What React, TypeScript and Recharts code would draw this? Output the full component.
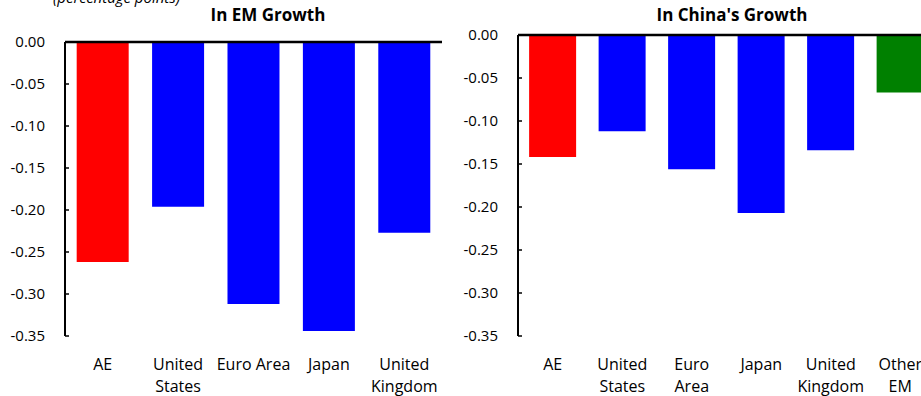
import React from "react";
import { BarChart, Bar, XAxis, YAxis, Cell, ReferenceLine } from "recharts";

// ---- Data ----
const emCategories = ["AE", "United States", "Euro Area", "Japan", "United Kingdom"];
const emTickLabels = ["AE", "United\nStates", "Euro Area", "Japan", "United\nKingdom"];
const emValues = [-0.262, -0.196, -0.312, -0.344, -0.227];

const chinaCategories = ["AE", "United States", "Euro Area", "Japan", "United Kingdom", "Other EM"];
const chinaTickLabels = ["AE", "United\nStates", "Euro\nArea", "Japan", "United\nKingdom", "Other\nEM"];
const chinaValues = [-0.142, -0.112, -0.156, -0.207, -0.134, -0.067];

const yTicks = [0, -0.05, -0.1, -0.15, -0.2, -0.25, -0.3, -0.35];

const emData = emCategories.map((c, i) => ({ name: c, label: emTickLabels[i], value: emValues[i] }));
const chinaData = chinaCategories.map((c, i) => ({ name: c, label: chinaTickLabels[i], value: chinaValues[i] }));

// ---- Styles ----
const FONT = "'Open Sans', sans-serif";
const colorFor = (name: string) => (name === "AE" ? "#FF0000" : name === "Other EM" ? "#008000" : "#0000FF");

const makeTick = (labels: string[]) => (props: any) => {
  const { x, y, index } = props;
  const lines = (labels[index] || "").split("\n");
  return (
    <text x={x} y={y} textAnchor="middle" fontFamily={FONT} fontSize={16} fill="#000">
      {lines.map((l, i) => (
        <tspan key={i} x={x} dy={i === 0 ? 26 : 22}>
          {l}
        </tspan>
      ))}
    </text>
  );
};

const yTickStyle = { fontFamily: FONT, fontSize: 15, fill: "#000" };

function Panel({
  data,
  labels,
  width,
  height,
  margin,
  yWidth,
  gap,
}: {
  data: any[];
  labels: string[];
  width: number;
  height: number;
  margin: any;
  yWidth: number;
  gap: string;
}) {
  return (
    <BarChart width={width} height={height} data={data} margin={margin} barCategoryGap={gap}>
      <XAxis
        dataKey="name"
        axisLine={false}
        tickLine={false}
        interval={0}
        height={60}
        tick={makeTick(labels)}
      />
      <YAxis
        domain={[-0.35, 0]}
        ticks={yTicks}
        interval={0}
        width={yWidth}
        tickFormatter={(v: number) => v.toFixed(2)}
        axisLine={{ stroke: "#000", strokeWidth: 2 }}
        tickLine={{ stroke: "#000", strokeWidth: 1.5 }}
        tickSize={-4}
        tickMargin={24}
        tick={yTickStyle}
        allowDataOverflow
      />
      <Bar dataKey="value" isAnimationActive={false}>
        {data.map((d) => (
          <Cell key={d.name} fill={colorFor(d.name)} />
        ))}
      </Bar>
      <ReferenceLine y={0} stroke="#000" strokeWidth={2.5} />
    </BarChart>
  );
}

export default function App() {
  return (
    <div style={{ position: "absolute", left: 0, top: 0, width: 921, height: 396, background: "#fff", overflow: "hidden" }}>
      <div
        style={{
          position: "absolute",
          left: 53,
          top: -13,
          fontFamily: FONT,
          fontStyle: "italic",
          fontSize: 15,
          whiteSpace: "nowrap",
        }}
      >
        (percentage points)
      </div>
      <div
        style={{
          position: "absolute",
          left: 168,
          width: 200,
          top: 3,
          textAlign: "center",
          fontFamily: FONT,
          fontWeight: 700,
          fontSize: 17,
        }}
      >
        In EM Growth
      </div>
      <div
        style={{
          position: "absolute",
          left: 632,
          width: 200,
          top: 3,
          textAlign: "center",
          fontFamily: FONT,
          fontWeight: 700,
          fontSize: 17,
        }}
      >
        In China's Growth
      </div>
      <div style={{ position: "absolute", left: 0, top: 0 }}>
        <Panel
          data={emData}
          labels={emTickLabels}
          width={460}
          height={396}
          margin={{ top: 42, right: 18, bottom: 0, left: 5 }}
          yWidth={60}
          gap="15.5%"
        />
      </div>
      <div style={{ position: "absolute", left: 460, top: 0 }}>
        <Panel
          data={chinaData}
          labels={chinaTickLabels}
          width={475}
          height={396}
          margin={{ top: 35, right: 0, bottom: 0, left: 0 }}
          yWidth={58}
          gap="16%"
        />
      </div>
    </div>
  );
}
